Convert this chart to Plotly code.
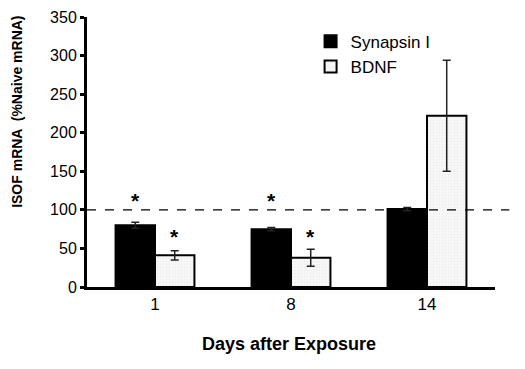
import plotly.graph_objects as go

days = ["1", "8", "14"]
synapsin = [80, 75, 101]
synapsin_err = [4, 2, 2]
bdnf = [41, 38, 222]
bdnf_err = [6, 11, 72]
y_ticks = [0, 50, 100, 150, 200, 250, 300, 350]
reference_level = 100
star_syn_y = 112
star_bdnf_y = 65
star_groups = [0, 1]

fig = go.Figure()
fig.add_trace(go.Bar(
    x=days, y=synapsin, name="Synapsin I",
    marker=dict(color="black", line=dict(color="black", width=2)),
    error_y=dict(type="data", array=synapsin_err, visible=True, color="#222", thickness=1.5, width=4),
))
fig.add_trace(go.Bar(
    x=days, y=bdnf, name="BDNF",
    marker=dict(color="#f4f4f4", line=dict(color="black", width=2),
                pattern=dict(shape=".", fgcolor="#dddddd", bgcolor="#f7f7f7", size=3, solidity=0.2)),
    error_y=dict(type="data", array=bdnf_err, visible=True, color="#222", thickness=1.5, width=4),
))

fig.add_shape(type="line", xref="paper", yref="y", x0=0, x1=1.035, y0=reference_level, y1=reference_level,
              line=dict(color="black", width=1.3, dash="dash"))

for g in star_groups:
    fig.add_annotation(x=g, y=star_syn_y, xshift=-20, text="<b>*</b>", showarrow=False,
                       font=dict(size=21, color="black", family="Liberation Sans, Arial"))
    fig.add_annotation(x=g, y=star_bdnf_y, xshift=19, text="<b>*</b>", showarrow=False,
                       font=dict(size=21, color="black", family="Liberation Sans, Arial"))

fig.add_annotation(xref="paper", yref="paper", x=0.496, y=-0.21, yanchor="middle", xanchor="center",
                   text="<b>Days after Exposure</b>", showarrow=False, font=dict(size=18))
fig.add_annotation(xref="paper", yref="paper", x=-0.172, y=0.648, yanchor="middle", xanchor="center",
                   text="<b>ISOF mRNA  (%Naive mRNA)</b>", textangle=-90, showarrow=False, font=dict(size=14))

fig.update_layout(
    width=517, height=361,
    margin=dict(l=79, r=30, t=9, b=82),
    paper_bgcolor="white", plot_bgcolor="white",
    barmode="group", bargap=0.42, bargroupgap=0,
    font=dict(family="Liberation Sans, Arial", size=17, color="black"),
    legend=dict(x=0.548, y=0.975, xanchor="left", yanchor="top", bgcolor="rgba(0,0,0,0)",
                font=dict(size=17), itemsizing="constant"),
    showlegend=True,
)
fig.update_xaxes(
    type="category", automargin=False,
    showline=True, linecolor="black", linewidth=3, ticks="", showgrid=False,
    range=[-0.5, 2.5], tickfont=dict(size=17),
)
fig.update_yaxes(
    automargin=False,
    showline=True, linecolor="black", linewidth=3, ticks="outside", ticklen=4, tickwidth=3,
    tickcolor="black", showgrid=False, range=[0, 350], tickvals=y_ticks, zeroline=False,
    tickfont=dict(size=16),
)

fig.write_html("out.html")
